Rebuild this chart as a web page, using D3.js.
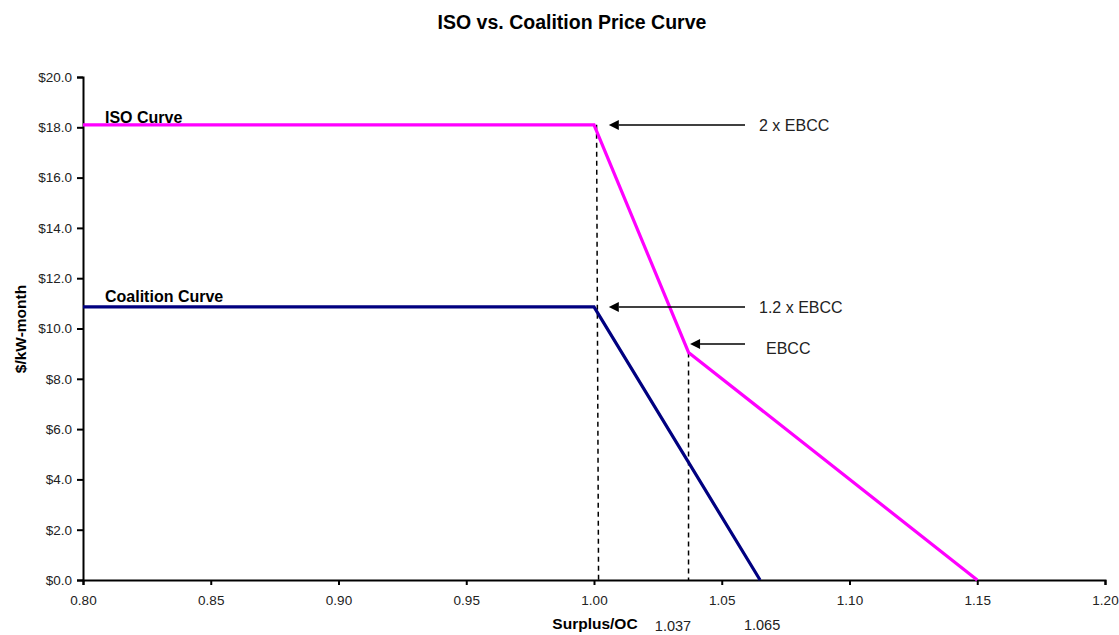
<!DOCTYPE html>
<html>
<head>
<meta charset="utf-8">
<script src="https://cdn.jsdelivr.net/npm/d3@7"></script>
<style>
  body { margin: 0; background: #fff; }
  text { font-family: "Liberation Sans", Arial, sans-serif; }
</style>
</head>
<body>
<script>
// ISO vs coalition price curve

// data
var isoX = [0.80, 1.0, 1.037, 1.15];
var isoY = [18.1, 18.1, 9.05, 0];
var coalX = [0.80, 1.0, 1.065];
var coalY = [10.86, 10.86, 0];
var xTicks = [0.80, 0.85, 0.90, 0.95, 1.00, 1.05, 1.10, 1.15, 1.20];
var yTicks = [0, 2, 4, 6, 8, 10, 12, 14, 16, 18, 20];
var dropX = [1.001, 1.037];       // dashed guide lines
var dropY = [18.1, 9.05];
var arrowLabels = ["2 x EBCC", "1.2 x EBCC", "EBCC"];
var arrowY = [18.1, 10.86, 9.38];
var arrowTipX = [1.0054, 1.0054, 1.0372];
var arrowTailX = [1.0591, 1.0591, 1.0591];
var markLabels = ["1.037", "1.065"];

var width = 1119, height = 635;

var svg = d3.select("body")
    .append("svg")
    .attr("width", width)
    .attr("height", height);

var x = d3.scaleLinear().domain([0.80, 1.20]).range([83, 1105]);
var y = d3.scaleLinear().domain([0, 20]).range([580, 77]);

// arrow marker
svg.append("defs").append("marker")
    .attr("id", "arr")
    .attr("viewBox", "0 0 10 10")
    .attr("refX", 0).attr("refY", 5)
    .attr("markerWidth", 11).attr("markerHeight", 10)
    .attr("markerUnits", "userSpaceOnUse")
    .attr("orient", "auto-start-reverse")
    .append("path")
    .attr("d", "M0,0 L10,5 L0,10 Z")
    .attr("fill", "#000");

// title
svg.append("text")
    .attr("x", 572).attr("y", 29)
    .attr("text-anchor", "middle")
    .style("font-size", "19.5px").style("font-weight", "bold")
    .text("ISO vs. Coalition Price Curve");

// axes
var xAxis = svg.append("g")
    .attr("transform", "translate(0,580)")
    .call(d3.axisBottom(x).tickValues(xTicks).tickFormat(d3.format(".2f")).tickSizeOuter(0).tickSize(5));
var yAxis = svg.append("g")
    .attr("transform", "translate(83,0)")
    .call(d3.axisLeft(y).tickValues(yTicks).tickFormat(function(d){ return "$" + d.toFixed(1); }).tickSizeOuter(0).tickSize(6));

[xAxis, yAxis].forEach(function(a){
    a.select(".domain").attr("stroke", "#000").attr("stroke-width", 2);
    a.selectAll(".tick line").attr("stroke", "#000").attr("stroke-width", 2);
    a.selectAll("text").style("font-size", "13.5px").attr("fill", "#222")
        .style("font-family", "'Liberation Sans', Arial, sans-serif");
});
xAxis.selectAll("text").attr("y", 0).attr("dy", 25);
yAxis.selectAll("text").attr("x", -11);

// axis titles
svg.append("text")
    .attr("x", 595).attr("y", 629)
    .attr("text-anchor", "middle")
    .style("font-size", "15.5px").style("font-weight", "bold")
    .text("Surplus/OC");
svg.append("text")
    .attr("transform", "translate(26,329) rotate(-90)")
    .attr("text-anchor", "middle")
    .style("font-size", "15.5px").style("font-weight", "bold")
    .text("$/kW-month");

// dashed guide lines
dropX.forEach(function(d, i){
    svg.append("line")
        .attr("x1", x(d)).attr("x2", x(d) + (i == 0 ? 2 : 0))
        .attr("y1", y(dropY[i])).attr("y2", y(0))
        .attr("stroke", "#000").attr("stroke-width", 1.5)
        .attr("stroke-dasharray", "5,4");
});

// curves
var line = d3.line().x(function(d){ return x(d[0]); }).y(function(d){ return y(d[1]); });

svg.append("path")
    .datum(d3.zip(coalX, coalY))
    .attr("d", line)
    .attr("fill", "none").attr("stroke", "#000080").attr("stroke-width", 3.2)
    .attr("stroke-linejoin", "miter");

svg.append("path")
    .datum(d3.zip(isoX, isoY))
    .attr("d", line)
    .attr("fill", "none").attr("stroke", "#FF00FF").attr("stroke-width", 3.2)
    .attr("stroke-linejoin", "miter");

// curve labels
svg.append("text").attr("x", 105).attr("y", 123)
    .style("font-size", "16px").style("font-weight", "bold").text("ISO Curve");
svg.append("text").attr("x", 105).attr("y", 302)
    .style("font-size", "16px").style("font-weight", "bold").text("Coalition Curve");

// arrows
var labelX = [759, 759, 766];
arrowLabels.forEach(function(lbl, i){
    var yy = Math.round(y(arrowY[i]));
    svg.append("line")
        .attr("x1", x(arrowTailX[i])).attr("x2", x(arrowTipX[i]) + 11)
        .attr("y1", yy).attr("y2", yy)
        .attr("stroke", "#000").attr("stroke-width", 1.6)
        .attr("marker-end", "url(#arr)");
    svg.append("text")
        .attr("x", labelX[i]).attr("y", yy + (i == 2 ? 10 : 6))
        .style("font-size", "16px").attr("fill", "#222")
        .text(lbl);
});

// marker values under the axis
svg.append("text").attr("x", 673).attr("y", 631)
    .attr("text-anchor", "middle").style("font-size", "14.5px").attr("fill", "#222")
    .text(markLabels[0]);
svg.append("text").attr("x", x(1.065) + 2).attr("y", 630)
    .attr("text-anchor", "middle").style("font-size", "14.5px").attr("fill", "#222")
    .text(markLabels[1]);
</script>
</body>
</html>
